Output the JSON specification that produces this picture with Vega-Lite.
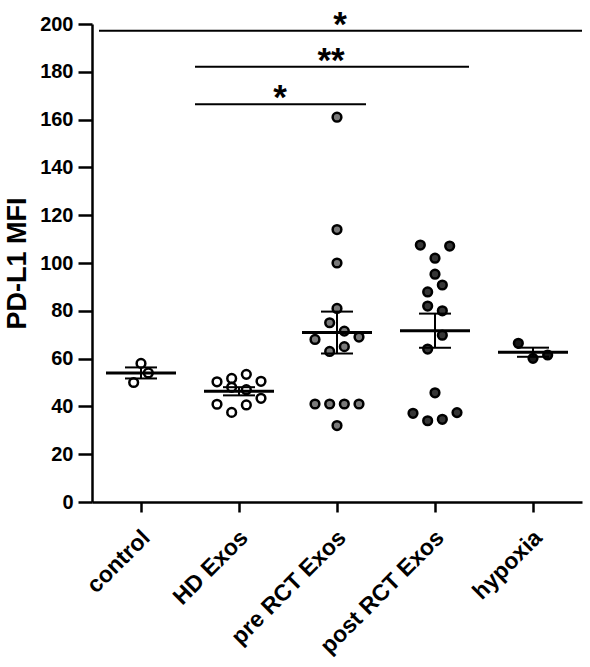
{
  "$schema": "https://vega.github.io/schema/vega-lite/v6.json",
  "autosize": "none",
  "width": 490,
  "height": 478,
  "padding": {"left": 92, "top": 24, "right": 8, "bottom": 165},
  "background": "white",
  "config": {
    "view": {"stroke": null},
    "font": "Liberation Sans",
    "axis": {
      "domainColor": "black", "domainWidth": 2.5, "tickColor": "black", "tickWidth": 2.5,
      "tickSize": 10, "grid": false, "labelColor": "black", "labelFont": "Liberation Sans",
      "labelFontWeight": "bold", "titleFont": "Liberation Sans", "titleColor": "black"
    }
  },
  "datasets": {
    "pts": [
      {"group": "control", "value": 58, "col": 0},
      {"group": "control", "value": 50, "col": -1},
      {"group": "control", "value": 54, "col": 1},
      {"group": "HD Exos", "value": 51.7, "col": -1},
      {"group": "HD Exos", "value": 53.4, "col": 1},
      {"group": "HD Exos", "value": 50.3, "col": -3},
      {"group": "HD Exos", "value": 50.5, "col": 3},
      {"group": "HD Exos", "value": 48, "col": -1},
      {"group": "HD Exos", "value": 47, "col": 1},
      {"group": "HD Exos", "value": 40.9, "col": -3},
      {"group": "HD Exos", "value": 37.5, "col": -1},
      {"group": "HD Exos", "value": 40.6, "col": 1},
      {"group": "HD Exos", "value": 43.4, "col": 3},
      {"group": "pre RCT Exos", "value": 161, "col": 0},
      {"group": "pre RCT Exos", "value": 114, "col": 0},
      {"group": "pre RCT Exos", "value": 100, "col": 0},
      {"group": "pre RCT Exos", "value": 81, "col": 0},
      {"group": "pre RCT Exos", "value": 75, "col": -1},
      {"group": "pre RCT Exos", "value": 71.5, "col": 1},
      {"group": "pre RCT Exos", "value": 68, "col": -3},
      {"group": "pre RCT Exos", "value": 69, "col": 3},
      {"group": "pre RCT Exos", "value": 65, "col": 1},
      {"group": "pre RCT Exos", "value": 63, "col": -1},
      {"group": "pre RCT Exos", "value": 41, "col": -3},
      {"group": "pre RCT Exos", "value": 41, "col": -1},
      {"group": "pre RCT Exos", "value": 41, "col": 1},
      {"group": "pre RCT Exos", "value": 41, "col": 3},
      {"group": "pre RCT Exos", "value": 32, "col": 0},
      {"group": "post RCT Exos", "value": 107.5, "col": -2},
      {"group": "post RCT Exos", "value": 107.1, "col": 2},
      {"group": "post RCT Exos", "value": 102, "col": 0},
      {"group": "post RCT Exos", "value": 95.3, "col": 0},
      {"group": "post RCT Exos", "value": 90.8, "col": 1},
      {"group": "post RCT Exos", "value": 87.9, "col": -1},
      {"group": "post RCT Exos", "value": 82, "col": -1},
      {"group": "post RCT Exos", "value": 80, "col": 1},
      {"group": "post RCT Exos", "value": 69.8, "col": 1},
      {"group": "post RCT Exos", "value": 64, "col": -1},
      {"group": "post RCT Exos", "value": 45.7, "col": 0},
      {"group": "post RCT Exos", "value": 37.1, "col": -3},
      {"group": "post RCT Exos", "value": 34, "col": -1},
      {"group": "post RCT Exos", "value": 34.6, "col": 1},
      {"group": "post RCT Exos", "value": 37.4, "col": 3},
      {"group": "hypoxia", "value": 66.4, "col": -2},
      {"group": "hypoxia", "value": 60.1, "col": 0},
      {"group": "hypoxia", "value": 61.5, "col": 2}
    ],
    "sig": [
      {"id": "a", "from": "control", "to": "hypoxia", "y": 197.2, "label": "*", "at": "pre RCT Exos"},
      {"id": "b", "from": "HD Exos", "to": "post RCT Exos", "y": 182.1, "label": "**", "at": "pre RCT Exos"},
      {"id": "c", "from": "HD Exos", "to": "pre RCT Exos", "y": 166.4, "label": "*", "at": "HD Exos"}
    ]
  },
  "layer": [
    {
      "data": {"name": "pts"},
      "mark": {"type": "point", "filled": true, "size": 76, "stroke": "black", "strokeWidth": 2.5, "opacity": 1},
      "encoding": {
        "x": {"field": "group", "type": "nominal", "scale": {"type": "point", "padding": 0.5, "domain": ["control", "HD Exos", "pre RCT Exos", "post RCT Exos", "hypoxia"]},
              "axis": {"title": null, "labelAngle": -45, "labelFontSize": 23, "labelPadding": 14, "labelOffset": -3, "labelAlign": "right", "labelBaseline": "top"}},
        "xOffset": {"field": "col", "type": "quantitative", "scale": {"domain": [-3, 3], "range": [-22, 22]}},
        "y": {"field": "value", "type": "quantitative", "title": "PD-L1 MFI", "scale": {"domain": [0, 200], "nice": false, "zero": true},
              "axis": {"title": "PD-L1 MFI", "values": [0, 20, 40, 60, 80, 100, 120, 140, 160, 180, 200], "tickSize": 14, "labelFontSize": 20, "labelPadding": 5, "titleFontSize": 27, "titleFontWeight": "bold", "titlePadding": 8}},
        "fill": {"field": "group", "type": "nominal", "legend": null,
                 "scale": {"domain": ["control", "HD Exos", "pre RCT Exos", "post RCT Exos", "hypoxia"], "range": ["white", "white", "#7a7a7a", "#363636", "#1a1a1a"]}}
      }
    },
    {
      "data": {"name": "pts"},
      "mark": {"type": "tick", "size": 70, "thickness": 3, "color": "black", "opacity": 1},
      "encoding": {
        "x": {"field": "group", "type": "nominal"},
        "y": {"aggregate": "mean", "field": "value", "type": "quantitative", "title": "PD-L1 MFI"}
      }
    },
    {
      "data": {"name": "pts"},
      "mark": {"type": "errorbar", "extent": "stderr", "color": "black", "opacity": 1, "ticks": {"size": 32, "thickness": 2, "color": "black", "opacity": 1}, "rule": {"strokeWidth": 2, "color": "black", "opacity": 1}},
      "encoding": {
        "x": {"field": "group", "type": "nominal"},
        "y": {"field": "value", "type": "quantitative", "title": "PD-L1 MFI"}
      }
    },
    {
      "data": {"name": "sig"},
      "transform": [{"filter": "datum.id === 'a'"}],
      "mark": {"type": "rule", "strokeWidth": 2, "color": "black", "xOffset": -42, "x2Offset": 49},
      "encoding": {"x": {"field": "from", "type": "nominal"}, "x2": {"field": "to"}, "y": {"field": "y", "type": "quantitative", "title": "PD-L1 MFI"}}
    },
    {
      "data": {"name": "sig"},
      "transform": [{"filter": "datum.id === 'b'"}],
      "mark": {"type": "rule", "strokeWidth": 2, "color": "black", "xOffset": -44, "x2Offset": 34},
      "encoding": {"x": {"field": "from", "type": "nominal"}, "x2": {"field": "to"}, "y": {"field": "y", "type": "quantitative", "title": "PD-L1 MFI"}}
    },
    {
      "data": {"name": "sig"},
      "transform": [{"filter": "datum.id === 'c'"}],
      "mark": {"type": "rule", "strokeWidth": 2, "color": "black", "xOffset": -44, "x2Offset": 29},
      "encoding": {"x": {"field": "from", "type": "nominal"}, "x2": {"field": "to"}, "y": {"field": "y", "type": "quantitative", "title": "PD-L1 MFI"}}
    },
    {
      "data": {"name": "sig"},
      "transform": [{"filter": "datum.id === 'a'"}],
      "mark": {"type": "text", "fontSize": 35, "fontWeight": "bold", "color": "black", "baseline": "alphabetic", "dx": 3, "dy": 5},
      "encoding": {"x": {"field": "at", "type": "nominal"}, "y": {"field": "y", "type": "quantitative", "title": "PD-L1 MFI"}, "text": {"field": "label"}}
    },
    {
      "data": {"name": "sig"},
      "transform": [{"filter": "datum.id === 'b'"}],
      "mark": {"type": "text", "fontSize": 35, "fontWeight": "bold", "color": "black", "baseline": "alphabetic", "dx": -6, "dy": 5, "letterSpacing": 9},
      "encoding": {"x": {"field": "at", "type": "nominal"}, "y": {"field": "y", "type": "quantitative", "title": "PD-L1 MFI"}, "text": {"field": "label"}}
    },
    {
      "data": {"name": "sig"},
      "transform": [{"filter": "datum.id === 'c'"}],
      "mark": {"type": "text", "fontSize": 35, "fontWeight": "bold", "color": "black", "baseline": "alphabetic", "dx": 41, "dy": 5},
      "encoding": {"x": {"field": "at", "type": "nominal"}, "y": {"field": "y", "type": "quantitative", "title": "PD-L1 MFI"}, "text": {"field": "label"}}
    }
  ]
}
